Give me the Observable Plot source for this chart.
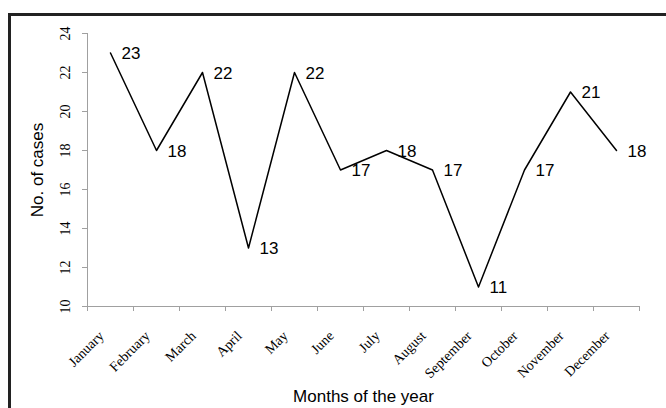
<!DOCTYPE html>
<html>
<head>
<meta charset="utf-8">
<script src="https://cdn.jsdelivr.net/npm/d3@7"></script>
<script src="https://cdn.jsdelivr.net/npm/@observablehq/plot@0.6"></script>
<style>
  html, body { margin: 0; padding: 0; background: #fff; }
  #wrap { position: relative; width: 666px; height: 408px; overflow: hidden; }
  #frame { position: absolute; left: 8px; top: 13px; width: 700px; height: 500px;
           border-left: 3px solid #222; border-top: 3px solid #222; box-sizing: border-box; }
  #chart { position: absolute; left: 0; top: 0; }
</style>
</head>
<body>
<div id="wrap"><div id="frame"></div><div id="chart"></div></div>
<script>
const months = ["January","February","March","April","May","June","July","August","September","October","November","December"];
const cases = [23, 18, 22, 13, 22, 17, 18, 17, 11, 17, 21, 18];
const yTicks = [10, 12, 14, 16, 18, 20, 22, 24];

const data = months.map((m, i) => ({month: m, idx: i + 0.5, cases: cases[i]}));
const bounds = d3.range(months.length + 1);

const serif = "Liberation Serif, Times New Roman, serif";
const sans = "Liberation Sans, Arial, sans-serif";

const chart = Plot.plot({
  width: 666,
  height: 408,
  marginLeft: 87,
  marginRight: 27,
  marginTop: 33,
  marginBottom: 102,
  style: {background: "transparent", overflow: "visible"},
  x: {domain: [0, months.length], axis: null},
  y: {domain: [10, 24], axis: null},
  marks: [
    Plot.axisX({ticks: bounds, tickFormat: () => "", tickSize: 5, stroke: "#a0a0a0", label: null}),
    Plot.axisY({ticks: yTicks, tickFormat: () => "", tickSize: 5, stroke: "#a0a0a0", label: null}),
    Plot.ruleY([10], {stroke: "#a0a0a0"}),
    Plot.ruleX([0], {stroke: "#a0a0a0"}),
    Plot.text(yTicks, {y: d => d, text: d => String(d), frameAnchor: "left", rotate: -90,
      textAnchor: "middle", lineAnchor: "middle", dx: -22, fontFamily: serif, fontSize: 14, fill: "#000"}),
    Plot.text(data, {x: "idx", text: "month", frameAnchor: "bottom", rotate: -45,
      textAnchor: "end", lineAnchor: "middle", dx: -9, dy: 27, fontFamily: serif, fontSize: 14, fill: "#000"}),
    Plot.line(data, {x: "idx", y: "cases", stroke: "#000", strokeWidth: 1.5}),
    Plot.text(data, {x: "idx", y: "cases", text: d => String(d.cases), textAnchor: "start",
      lineAnchor: "middle", dx: 11, dy: 1, fontFamily: sans, fontSize: 17, fill: "#000"}),
    Plot.text(["No. of cases"], {frameAnchor: "left", text: d => d, rotate: -90, textAnchor: "middle",
      lineAnchor: "middle", dx: -50, fontFamily: sans, fontSize: 17, fill: "#000"}),
    Plot.text(["Months of the year"], {frameAnchor: "bottom", text: d => d, textAnchor: "middle",
      lineAnchor: "middle", dy: 90, fontFamily: sans, fontSize: 17, fill: "#000"})
  ]
});
document.getElementById("chart").appendChild(chart);
</script>
</body>
</html>
